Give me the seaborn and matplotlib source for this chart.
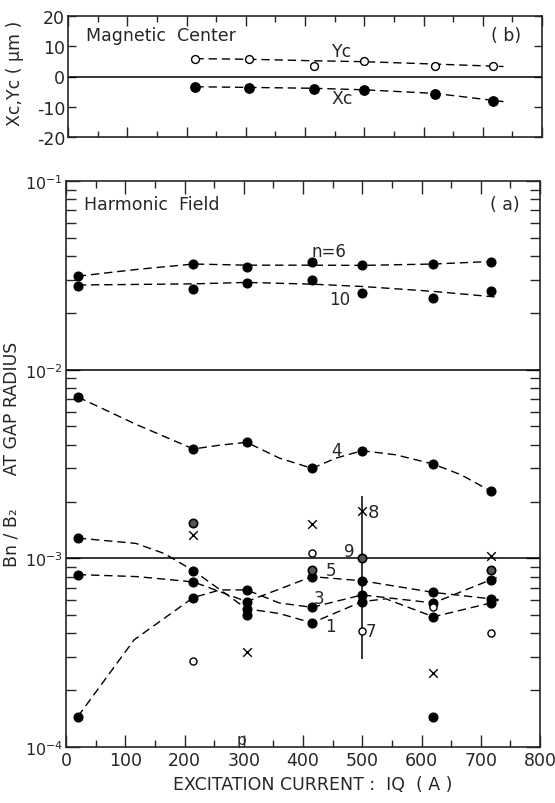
import numpy as np
import pandas as pd
import matplotlib
matplotlib.use("Agg")
import matplotlib.pyplot as plt
import seaborn as sns
from matplotlib.ticker import MultipleLocator, LogLocator, NullFormatter, FixedLocator, FixedFormatter

# ---------------- data ----------------
# (b) magnetic centre
center_x = [215, 305, 415, 500, 620, 717]
yc_pts = [5.9, 5.8, 3.5, 5.0, 3.5, 3.4]
xc_pts = [-3.4, -3.7, -4.0, -4.5, -5.8, -8.1]
yc_curve_x = [215, 305, 415, 500, 620, 735]
yc_curve = [5.9, 5.7, 5.2, 4.9, 4.1, 3.3]
xc_curve_x = [215, 305, 415, 500, 620, 735]
xc_curve = [-3.4, -3.6, -3.9, -4.4, -5.6, -8.3]

# (a) harmonic field, Bn/B2
harm_x = [20, 215, 305, 415, 500, 620, 717]
n6_pts = [0.0313, 0.0365, 0.0352, 0.0373, 0.0358, 0.0365, 0.0373]
n10_pts = [0.0279, 0.0269, 0.0288, 0.0298, 0.0254, 0.0239, 0.0260]
n4_pts = [0.00716, 0.0038, 0.00412, 0.0030, 0.00372, 0.00316, 0.00227]
n1_pts = [1.28e-3, 8.6e-4, 5.4e-4, 4.55e-4, 5.9e-4, 4.9e-4, 5.8e-4]
n3_pts = [1.45e-4, 6.2e-4, 6.8e-4, 5.5e-4, 6.4e-4, 5.8e-4, 7.7e-4]
n5_pts = [8.2e-4, 7.5e-4, 5.9e-4, 8.0e-4, 7.6e-4, 6.6e-4, 6.1e-4]

n6_curve_x = [20, 120, 215, 305, 415, 500, 620, 730]
n6_curve = [0.0313, 0.0340, 0.0363, 0.0358, 0.0358, 0.0357, 0.0363, 0.0376]
n10_curve_x = [20, 215, 305, 415, 500, 620, 730]
n10_curve = [0.0281, 0.0285, 0.0290, 0.0284, 0.0276, 0.0260, 0.0242]
n4_curve_x = [20, 120, 215, 260, 305, 360, 415, 456, 500, 556, 620, 667, 717, 730]
n4_curve = [0.00716, 0.0051, 0.0038, 0.00398, 0.00412, 0.0034, 0.0030, 0.0034,
            0.00372, 0.00354, 0.00316, 0.00277, 0.00227, 0.0022]
n1_curve_x = [20, 118, 166, 215, 305, 360, 415, 500, 540, 620, 717, 730]
n1_curve = [1.28e-3, 1.2e-3, 1.06e-3, 8.6e-4, 5.4e-4, 5.1e-4, 4.55e-4, 5.9e-4,
            6.1e-4, 4.9e-4, 5.8e-4, 6.0e-4]
n3_curve_x = [20, 115, 215, 260, 305, 360, 415, 500, 620, 717, 727]
n3_curve = [1.45e-4, 3.7e-4, 6.2e-4, 6.8e-4, 6.8e-4, 5.8e-4, 5.5e-4, 6.4e-4,
            5.8e-4, 7.7e-4, 7.9e-4]
n5_curve_x = [20, 120, 215, 305, 415, 500, 620, 717, 730]
n5_curve = [8.2e-4, 8.0e-4, 7.5e-4, 5.9e-4, 8.0e-4, 7.6e-4, 6.6e-4, 6.1e-4, 6.05e-4]

n7_x = [215, 415, 500, 620, 717]
n7_pts = [2.84e-4, 1.07e-3, 4.1e-4, 5.5e-4, 4.0e-4]
n8_x = [215, 305, 415, 500, 620, 717]
n8_pts = [1.33e-3, 3.17e-4, 1.52e-3, 1.78e-3, 2.48e-4, 1.03e-3]
n9_x = [215, 415, 500, 717]
n9_pts = [1.54e-3, 8.7e-4, 1.0e-3, 8.7e-4]
extra_x = [305, 620]
extra_pts = [5.0e-4, 1.44e-4]
bar_x = [500]
bar_lo = [2.92e-4]
bar_hi = [2.15e-3]

x_ticks = [0, 100, 200, 300, 400, 500, 600, 700, 800]
top_yticks = [-20, -10, 0, 10, 20]
bot_yticks = [1e-4, 1e-3, 1e-2, 1e-1]
bot_ylabels = [r'$10^{-4}$', r'$10^{-3}$', r'$10^{-2}$', r'$10^{-1}$']

# ---------------- style ----------------
sns.set_theme(style="ticks")
plt.rcParams['font.family'] = ['DejaVu Sans']
plt.rcParams['axes.linewidth'] = 1.2
plt.rcParams['mathtext.fontset'] = 'dejavusans'

W, H = 555, 804
fig = plt.figure(figsize=(W / 100, H / 100), dpi=100)
fig.patch.set_facecolor('white')

def frac(l, t, r, b):
    return [l / W, 1 - b / H, (r - l) / W, (b - t) / H]

axb = fig.add_axes(frac(68, 17, 542, 138))
axa = fig.add_axes(frac(66, 182, 540, 748))

DASH = (0, (6, 3.5))
LW = 1.0

def dline(ax, x, y):
    sns.lineplot(x=x, y=y, ax=ax, color='black', lw=LW, linestyle=DASH,
                 sort=False, estimator=None, legend=False)

def filled(ax, x, y, s=42):
    sns.scatterplot(x=x, y=y, ax=ax, color='black', edgecolor='black',
                    s=s, marker='o', linewidth=0.8, legend=False, zorder=5)

def hollow(ax, x, y, s=26):
    sns.scatterplot(x=x, y=y, ax=ax, color='white', edgecolor='black',
                    s=s, marker='o', linewidth=1.0, legend=False, zorder=5)

# ---------------- panel (b) ----------------
axb.axhline(0, color='black', lw=1.1)
dline(axb, yc_curve_x, yc_curve)
dline(axb, xc_curve_x, xc_curve)
hollow(axb, center_x, yc_pts, s=32)
filled(axb, center_x, xc_pts, s=48)
axb.set_xlim(0, 800)
axb.set_ylim(-20, 20)
axb.xaxis.set_major_locator(MultipleLocator(100))
axb.xaxis.set_minor_locator(MultipleLocator(50))
axb.set_xticklabels([])
axb.yaxis.set_major_locator(FixedLocator(top_yticks))
axb.set_yticklabels([str(v) for v in top_yticks])
axb.tick_params(axis='both', which='both', direction='in', top=True, right=True,
                labelsize=12.5, width=1.0, pad=2)
axb.tick_params(axis='x', which='major', length=7)
axb.tick_params(axis='x', which='minor', length=4)
axb.tick_params(axis='y', which='major', length=6)
axb.set_ylabel('Xc,Yc ( μm )', fontsize=12.5)
axb.yaxis.set_label_coords(-0.093, 0.53)
axb.text(30, 13.6, 'Magnetic  Center', fontsize=12.5, ha='left', va='center')
axb.text(765, 13.6, '( b)', fontsize=12.5, ha='right', va='center')
axb.text(462, 8.3, 'Yc', fontsize=12.5, ha='center', va='center')
axb.text(462, -7.2, 'Xc', fontsize=12.5, ha='center', va='center')

# ---------------- panel (a) ----------------
axa.set_yscale('log')
axa.axhline(1e-2, color='black', lw=1.1)
axa.axhline(1e-3, color='black', lw=1.1)
for cx, cy in [(n6_curve_x, n6_curve), (n10_curve_x, n10_curve),
               (n4_curve_x, n4_curve), (n1_curve_x, n1_curve),
               (n3_curve_x, n3_curve), (n5_curve_x, n5_curve)]:
    dline(axa, cx, cy)
for py in [n6_pts, n10_pts, n4_pts, n1_pts, n3_pts, n5_pts]:
    filled(axa, harm_x, py)
filled(axa, extra_x, extra_pts)
sns.scatterplot(x=n9_x, y=n9_pts, ax=axa, color='#555555', edgecolor='black',
                s=36, marker='o', linewidth=1.2, legend=False, zorder=5)
hollow(axa, n7_x, n7_pts)
sns.scatterplot(x=n8_x, y=n8_pts, ax=axa, color='black', s=38, marker='x',
                linewidth=1.0, legend=False, zorder=5)
axa.vlines(bar_x, bar_lo, bar_hi, color='black', lw=1.1)

axa.set_xlim(0, 800)
axa.set_ylim(1e-4, 1e-1)
axa.xaxis.set_major_locator(FixedLocator(x_ticks))
axa.xaxis.set_major_formatter(FixedFormatter([str(v) for v in x_ticks]))
axa.xaxis.set_minor_locator(MultipleLocator(50))
axa.yaxis.set_major_locator(FixedLocator(bot_yticks))
axa.yaxis.set_major_formatter(FixedFormatter(bot_ylabels))
axa.yaxis.set_minor_locator(LogLocator(base=10, subs=np.arange(2, 10)))
axa.yaxis.set_minor_formatter(NullFormatter())
axa.tick_params(axis='both', which='both', direction='in', top=True, right=True,
                labelsize=12.5, width=1.0, pad=3)
axa.tick_params(axis='y', which='major', labelsize=11.5, pad=2)
axa.tick_params(axis='x', which='major', length=9)
axa.tick_params(axis='x', which='minor', length=5)
axa.tick_params(axis='y', which='major', length=10)
axa.tick_params(axis='y', which='minor', length=7)

axa.set_xlabel('EXCITATION CURRENT :  IQ  ( A )', fontsize=12.5)
axa.xaxis.set_label_coords(0.52, -0.05)
axa.set_ylabel('Bn / B₂      AT GAP RADIUS', fontsize=12.5)
axa.yaxis.set_label_coords(-0.097, 0.518)

axa.text(30, 0.0757, 'Harmonic  Field', fontsize=12.5, ha='left', va='center')
axa.text(765, 0.0757, '( a)', fontsize=12.5, ha='right', va='center')
axa.text(443, 0.0423, 'n=6', fontsize=12, ha='center', va='center')
axa.text(462, 0.0237, '10', fontsize=12, ha='center', va='center')
axa.text(456, 0.00376, '4', fontsize=12, ha='center', va='center')
axa.text(519, 1.76e-3, '8', fontsize=13, ha='center', va='center')
axa.text(478, 1.09e-3, '9', fontsize=12, ha='center', va='center')
axa.text(447, 8.7e-4, '5', fontsize=12, ha='center', va='center')
axa.text(427, 6.2e-4, '3', fontsize=12, ha='center', va='center')
axa.text(447, 4.4e-4, '1', fontsize=12, ha='center', va='center')
axa.text(515, 4.1e-4, '7', fontsize=12, ha='center', va='center')
axa.text(296, 1.0e-4, 'p', fontsize=11, ha='center', va='bottom')

fig.savefig('out.png', dpi=100, facecolor='white')
